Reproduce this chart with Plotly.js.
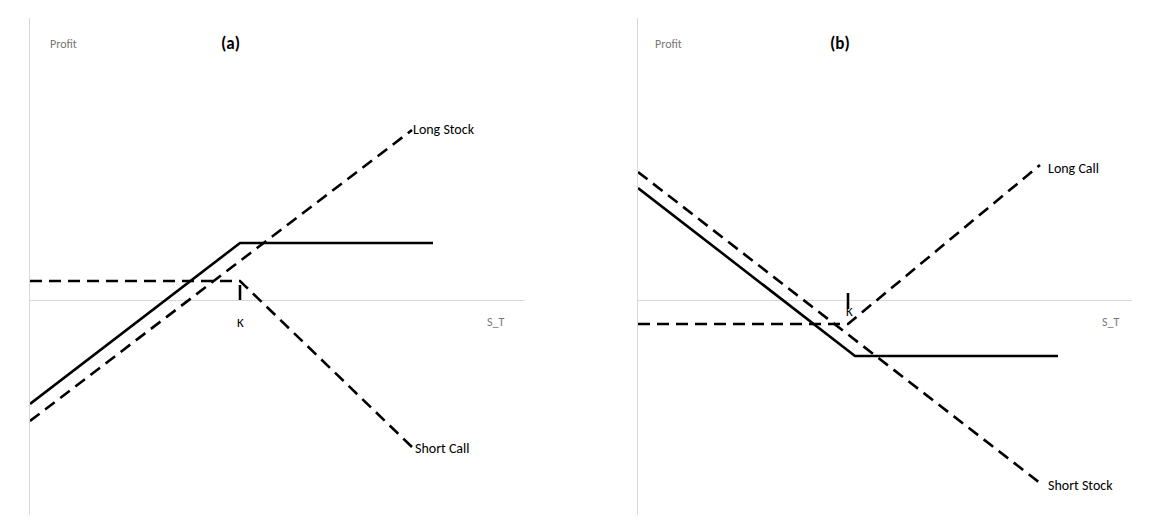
<!DOCTYPE html>
<html><head><meta charset="utf-8">
<script src="https://cdn.plot.ly/plotly-3.0.1.min.js"></script>
<style>body{margin:0;background:#fff}</style></head>
<body><div id="c" style="width:1170px;height:522px"></div>
<script>
// Panel (a): covered call
const aLongStockX = [0, 382];
const aLongStockY = [-121, 170];
const aShortCallX = [0, 210, 383];
const aShortCallY = [19, 19, -148];
const aCoveredX = [0, 210, 403];
const aCoveredY = [-104, 57, 57];
const aKTickX = [210, 210];
const aKTickY = [0, 15];
// Panel (b)
const bShortStockX = [0, 402];
const bShortStockY = [128, -183];
const bLongCallX = [0, 210, 402];
const bLongCallY = [-24, -24, 135];
const bComboX = [0, 217, 420];
const bComboY = [112, -56, -56];
const bKTickX = [210, 210];
const bKTickY = [7, -9];

const dash = {color:'#000', width:2.6, dash:'12px,7px'};
const solid = {color:'#000', width:2.6};
function tr(x,y,line,xa,ya){return {x:x,y:y,mode:'lines',line:line,xaxis:xa,yaxis:ya,hoverinfo:'skip'};}
const data = [
  tr(aLongStockX,aLongStockY,dash,'x','y'),
  tr(aShortCallX,aShortCallY,dash,'x','y'),
  tr(aCoveredX,aCoveredY,solid,'x','y'),
  tr(aKTickX,aKTickY,{color:'#000',width:2.6},'x','y'),
  tr(bShortStockX,bShortStockY,dash,'x2','y2'),
  tr(bLongCallX,bLongCallY,dash,'x2','y2'),
  tr(bComboX,bComboY,solid,'x2','y2'),
  tr(bKTickX,bKTickY,{color:'#000',width:2.6},'x2','y2')
];
const yDom=[7/522,504/522];
const ax={showgrid:false,showticklabels:false,ticks:'',zeroline:false,fixedrange:true};
const yax={showgrid:false,showticklabels:false,ticks:'',zeroline:true,zerolinecolor:'#d9d9d9',zerolinewidth:1,showline:true,linecolor:'#d9d9d9',linewidth:1,range:[-215,282],domain:yDom};
const f='Calibri, Carlito, "Open Sans", sans-serif';
function ann(t,x,y,xr,yr,opt){return Object.assign({text:t,x:x,y:y,xref:xr,yref:yr,showarrow:false,font:{family:f,size:14,color:'#000'},xanchor:'left'},opt||{});}
const grey={family:f,size:12,color:'#777'};
const layout={
  width:1170,height:522,margin:{l:0,r:0,t:0,b:0},showlegend:false,
  paper_bgcolor:'#fff',plot_bgcolor:'#fff',
  xaxis:Object.assign({},ax,{domain:[30/1170,525/1170],range:[0,495]}),
  yaxis:Object.assign({},yax,{anchor:'x'}),
  xaxis2:Object.assign({},ax,{domain:[638/1170,1132/1170],range:[0,494],anchor:'y2'}),
  yaxis2:Object.assign({},yax,{anchor:'x2'}),
  annotations:[
    ann('Profit',18,256,'x','y',{font:grey}),
    ann('<b>(a)</b>',200,256,'x','y',{xanchor:'center',font:{family:f,size:17,color:'#000'}}),
    ann('Long Stock',381,170,'x','y'),
    ann('Short Call',383,-148,'x','y'),
    ann('K',210,-22,'x','y',{xanchor:'center',font:{family:f,size:13,color:'#000'}}),
    ann('S_T',465,-22,'x','y',{xanchor:'center',font:grey}),
    ann('Profit',15,256,'x2','y2',{font:grey}),
    ann('<b>(b)</b>',202,256,'x2','y2',{xanchor:'center',font:{family:f,size:17,color:'#000'}}),
    ann('Long Call',408,131,'x2','y2'),
    ann('Short Stock',408,-185,'x2','y2'),
    ann('K',212,-11,'x2','y2',{xanchor:'center',font:{family:f,size:13,color:'#000'}}),
    ann('S_T',472,-22,'x2','y2',{xanchor:'center',font:grey})
  ]
};
Plotly.newPlot('c',data,layout,{staticPlot:true});
</script></body></html>
